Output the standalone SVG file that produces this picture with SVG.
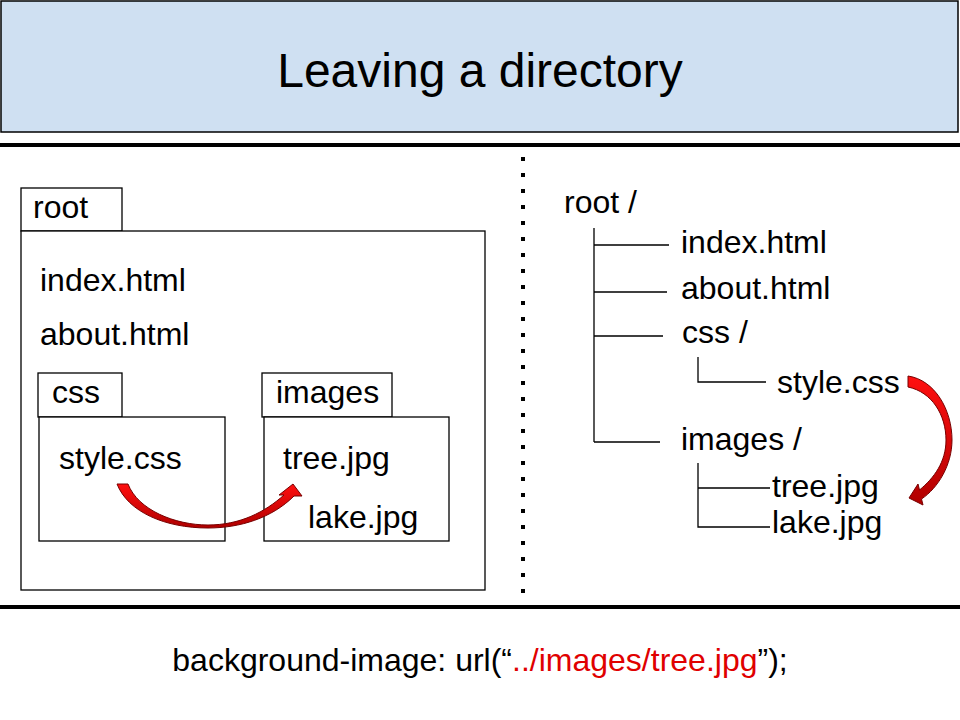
<svg xmlns="http://www.w3.org/2000/svg" width="960" height="720" viewBox="0 0 960 720">
<defs>
<style>
text{font-family:"Liberation Sans",Arial,sans-serif;fill:#000}
.t{font-size:32px}
.box{fill:#fff;stroke:#000;stroke-width:1.3}
.tr{stroke:#000;stroke-width:1.3;fill:none}
.arrow{fill:url(#rg);stroke:#700;stroke-width:1}
</style>
<linearGradient id="rg" x1="0" y1="0" x2="0" y2="1">
<stop offset="0" stop-color="#ff1010"/>
<stop offset="1" stop-color="#b00000"/>
</linearGradient>
</defs>
<rect width="960" height="720" fill="#fff"/>
<g id="title">
<rect x="1" y="1" width="957" height="131" fill="#cfe0f2" stroke="#000" stroke-width="1.5"/>
<text x="480" y="87" font-size="48" text-anchor="middle">Leaving a directory</text>
</g>
<g id="separators">
<line x1="0" y1="145" x2="960" y2="145" stroke="#000" stroke-width="4"/>
<line x1="0" y1="607" x2="960" y2="607" stroke="#000" stroke-width="4"/>
<line x1="523" y1="157" x2="523" y2="593" stroke="#000" stroke-width="4" stroke-dasharray="4 12"/>
</g>
<g id="root-folder">
<rect class="box" x="21" y="188" width="101" height="43"/>
<rect class="box" x="21" y="231" width="464" height="359"/>
<text class="t" x="33" y="218">root</text>
<text class="t" x="40" y="291">index.html</text>
<text class="t" x="40" y="345">about.html</text>
</g>
<g id="css-folder">
<rect class="box" x="38" y="373" width="84" height="44"/>
<rect class="box" x="39" y="417" width="186" height="124"/>
<text class="t" x="52" y="403">css</text>
<text class="t" x="59" y="469">style.css</text>
</g>
<g id="images-folder">
<rect class="box" x="262" y="373" width="130" height="44"/>
<rect class="box" x="264" y="417" width="185" height="124"/>
<text class="t" x="276" y="403">images</text>
<text class="t" x="283" y="469">tree.jpg</text>
<text class="t" x="308" y="528">lake.jpg</text>
</g>
<g id="tree">
<text class="t" x="564" y="213">root /</text>
<text class="t" x="681" y="253">index.html</text>
<text class="t" x="681" y="299">about.html</text>
<text class="t" x="682" y="343">css /</text>
<text class="t" x="777" y="393">style.css</text>
<text class="t" x="681" y="450">images /</text>
<text class="t" x="772" y="497">tree.jpg</text>
<text class="t" x="772" y="533">lake.jpg</text>
</g>
<g id="connectors">
<path class="tr" d="M594,228 V442 M594,245 H669 M594,292 H667 M594,336 H663 M594,442 H660"/>
<path class="tr" d="M698,357 V382 H766"/>
<path class="tr" d="M698,463 V527 H770 M698,488 H770"/>
<path class="arrow" d="M117,484 L128,484 C138,510 175,525 208,525 C240,525 265,512 284,495 L279,495 L293,484 L302,496 L294,496 C272,518 240,528 208,528 C165,528 128,512 117,484 Z"/>
<path class="arrow" d="M908,376 C935,380 952,410 952,440 C952,465 938,488 921.5,499 L923,505 L909,498 L918,484 L919.5,490 C934,478 946,462 946,440 C946,415 932,392 908,387 Z"/>
</g>
<g id="code">
<text class="t" x="480" y="671" text-anchor="middle">background-image: url(“<tspan fill="#e00000">../images/tree.jpg</tspan>”);</text>
</g>
</svg>
